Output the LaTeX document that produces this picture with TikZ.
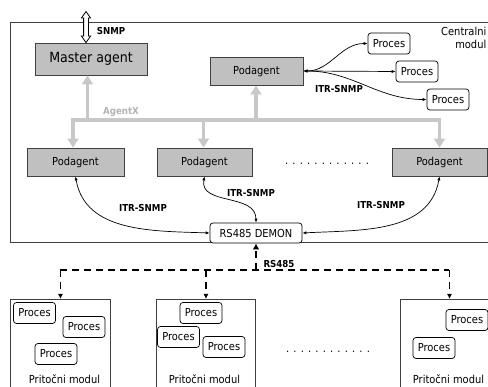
\documentclass[tikz,border=0pt]{standalone}
\usepackage{fontspec}
\setmainfont{DejaVu Sans Condensed}
\usetikzlibrary{arrows.meta}
\definecolor{boxgray}{RGB}{192,192,192}
\definecolor{busgray}{RGB}{200,200,200}
\definecolor{agxgray}{RGB}{178,178,178}
\definecolor{edgegray}{RGB}{64,64,64}
\begin{document}
\begin{tikzpicture}[x=1pt,y=1pt,
  every node/.style={font=\fontsize{11}{13}\selectfont, inner sep=0pt},
  agentbox/.style={draw=edgegray, fill=boxgray, line width=0.9pt, minimum height=28pt},
  proc/.style={draw=black, rounded corners=3pt, fill=white, line width=0.7pt,
               minimum width=42pt, minimum height=21pt},
  lbl/.style={font=\fontsize{9.6}{11}\selectfont\bfseries},
  itr/.style={line width=0.7pt, {Latex[length=4pt,width=3.2pt]}-{Latex[length=4pt,width=3.2pt]}},
  bus/.style={draw=busgray, line width=3.5pt},
  busarrow/.style={bus, -{Triangle[length=9pt,width=11pt]}},
  rsline/.style={line width=1.8pt, dash pattern=on 7pt off 5pt},
  module/.style={draw=edgegray, line width=0.9pt, anchor=north west}
]
\useasboundingbox (0,0) rectangle (488,-387);
\clip (0,0) rectangle (488,-387);

% central module frame
\draw[draw=edgegray, line width=0.9pt] (10,-22) rectangle (500,-242);
\node[anchor=north east, align=right] (centralni) at (486.5,-27) {Centralni\\modul};

% agents
\node[agentbox, minimum width=112pt, minimum height=32pt, font=\fontsize{14}{16}\selectfont]
  (master) at (91,-59) {Master agent};
\node[agentbox, minimum width=93pt] (podtop) at (256.5,-71) {Podagent};
\node[agentbox, minimum width=97pt] (pod1) at (75.5,-162) {Podagent};
\node[agentbox, minimum width=95pt] (pod2) at (204.5,-162) {Podagent};
\node[agentbox, minimum width=95pt] (pod3) at (439.5,-162) {Podagent};
\node (dots1) at (327,-164) {. . . . . . . . . . . .};

% processes of the top sub-agent
\node[proc] (pr1) at (389,-43.5) {Proces};
\node[proc] (pr2) at (417,-71.5) {Proces};
\node[proc] (pr3) at (448,-99.5) {Proces};

% RS485 daemon
\node[proc, minimum width=92pt, minimum height=20pt] (demon) at (256,-233) {RS485 DEMON};

% SNMP hollow double arrow above the master agent
\coordinate (sx) at (86,0);
\path (master.north -| sx) coordinate (sb);
\draw[line width=0.8pt, fill=white]
  (sb) ++(0,31) coordinate (st)
  (st) -- ++(4.6,-6.5) -- ++(-2.2,0) -- ++(0,-18) -- ++(2.2,0) -- (sb)
  -- ++(-4.6,6.5) -- ++(2.2,0) -- ++(0,18) -- ++(-2.2,0) -- cycle;
\node[lbl] (snmplbl) at (111,-31) {SNMP};

% AgentX bus
\coordinate (bA) at (73,-120);
\coordinate (bB) at (439.5,-120);
\coordinate (bM) at (87.5,-120);
\coordinate (bT) at (256,-120);
\coordinate (bC) at (203.5,-120);
\draw[bus, line join=miter, {Triangle[length=9pt,width=11pt]}-{Triangle[length=9pt,width=11pt]}]
  (bA |- pod1.north) -- (bA) -- (bB) -- (bB |- pod3.north);
\draw[busarrow] (bC) -- (bC |- pod2.north);
\draw[busarrow] (bM) -- (bM |- master.south);
\draw[busarrow] (bT) -- (bT |- podtop.south);
\node[lbl, text=agxgray] (agxlbl) at (121,-112) {AgentX};

% ITR-SNMP links
\draw[itr] (podtop.east) to[out=0,in=180] (pr1.west);
\draw[itr] (podtop.east) -- (pr2.west);
\draw[itr] (podtop.east) to[out=0,in=180] (pr3.west);
\node[lbl] (itr0) at (339,-89) {ITR-SNMP};

\draw[itr] (pod1.south) to[out=-80,in=178] (demon.west);
\draw[itr] (pod2.south) to[out=-100,in=90,looseness=1.1] (demon.north);
\draw[itr] (pod3.south) to[out=-100,in=3] (demon.east);
\node[lbl] (itr1) at (143,-208) {ITR-SNMP};
\node[lbl] (itr2) at (251,-193) {ITR-SNMP};
\node[lbl] (itr3) at (381,-205) {ITR-SNMP};

% field modules
\node[module, minimum width=100pt, minimum height=101pt] (mod1) at (10,-299) {};
\node[module, minimum width=99pt, minimum height=101pt] (mod2) at (156,-299) {};
\node[module, minimum width=98pt, minimum height=101pt] (mod3) at (400,-299) {};
\node (mod1lbl) at (64.5,-379) {Pritočni modul};
\node (mod2lbl) at (204.5,-379) {Pritočni modul};
\node (mod3lbl) at (448.5,-379) {Pritočni modul};
\node (dots2) at (328,-352) {. . . . . . . . . . . .};

\node[proc] (m1a) at (34.5,-313) {Proces};
\node[proc] (m1b) at (84,-327) {Proces};
\node[proc] (m1c) at (56,-354) {Proces};
\node[proc] (m2a) at (201,-313) {Proces};
\node[proc] (m2b) at (178.5,-337) {Proces};
\node[proc] (m2c) at (224,-347) {Proces};
\node[proc] (m3a) at (467,-320) {Proces};
\node[proc] (m3b) at (434,-348) {Proces};

% RS485 field bus
\coordinate (rsY) at (0,-270);
\draw[rsline] (mod1.north |- rsY) -- (mod3.north |- rsY);
\draw[rsline, -{Latex[length=6pt,width=6.5pt]}] (demon.south |- rsY) -- (demon.south);
\draw[rsline, -{Latex[length=5pt,width=5pt]}] (mod1.north |- rsY) -- (mod1.north);
\draw[rsline, -{Latex[length=5pt,width=5pt]}] (mod2.north |- rsY) -- (mod2.north);
\draw[rsline, -{Latex[length=5pt,width=5pt]}] (mod3.north |- rsY) -- (mod3.north);
\node[lbl] (rslbl) at (279,-264) {RS485};
\end{tikzpicture}
\end{document}
